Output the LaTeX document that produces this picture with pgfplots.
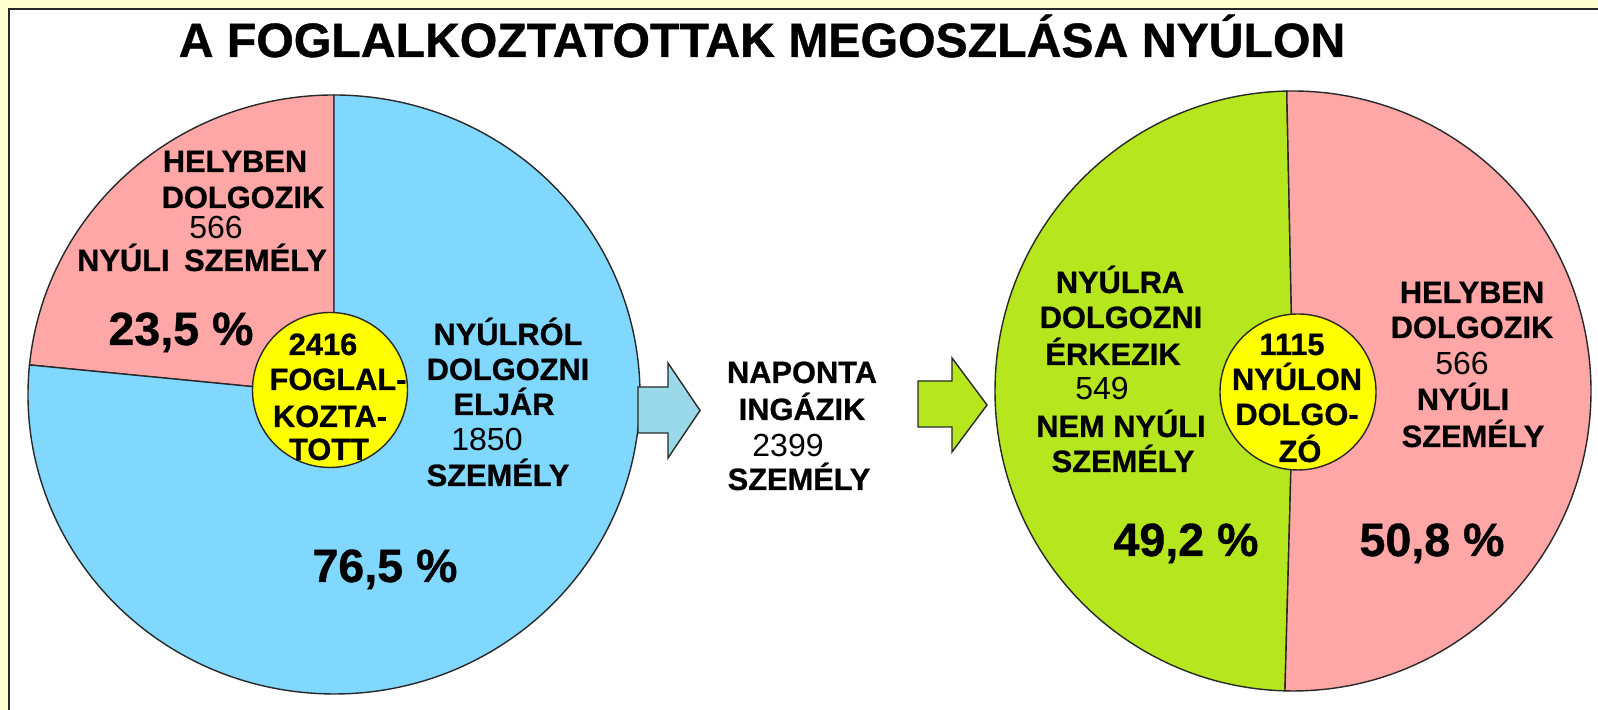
\documentclass[border=0pt]{standalone}
\usepackage{pgfplots}
\pgfplotsset{compat=1.18}
\usepackage{fontspec}
\setmainfont[BoldFeatures={FakeBold=0.8}]{Liberation Sans}
\definecolor{bgyellow}{RGB}{255,255,210}
\definecolor{pinkc}{RGB}{255,166,166}
\definecolor{bluec}{RGB}{128,216,255}
\definecolor{greenc}{RGB}{181,230,30}
\definecolor{arrowblue}{RGB}{153,217,234}
\definecolor{yel}{RGB}{255,255,0}
\definecolor{edge}{RGB}{40,40,40}

% data
\def\LocalL{566}\def\CommuteL{1850}
\def\InR{549}\def\LocalR{566}

\newcommand\B[3]{\node[anchor=base,inner sep=0pt,font=\fontsize{15.4bp}{17bp}\selectfont\bfseries] at (axis cs:#1,#2) {#3};}
\newcommand\R[3]{\node[anchor=base,inner sep=0pt,font=\fontsize{16bp}{17bp}\selectfont] at (axis cs:#1,#2) {#3};}
\newcommand\Pc[3]{\node[anchor=base,inner sep=0pt,font=\fontsize{23.3bp}{26bp}\selectfont\bfseries] at (axis cs:#1,#2) {#3};}

\begin{document}
\begin{tikzpicture}
\pgfmathsetmacro\aL{\LocalL/(\LocalL+\CommuteL)*360}
\pgfmathsetmacro\eL{90+\aL}
\pgfmathsetmacro\aR{\InR/(\InR+\LocalR)*360}
\pgfmathsetmacro\sR{91.2}
\pgfmathsetmacro\eR{\sR+\aR}
% pie geometry
\def\cxL{334}\def\cyL{315.5}\def\rxL{306}\def\ryL{299.5}
\def\cxR{1293}\def\cyR{319}\def\rxR{298}\def\ryR{300}
\pgfmathsetmacro\pLx{\cxL+\rxL*cos(90)}
\pgfmathsetmacro\pLy{\cyL+\ryL*sin(90)}
\pgfmathsetmacro\qLx{\cxL+\rxL*cos(\eL)}
\pgfmathsetmacro\qLy{\cyL+\ryL*sin(\eL)}
\pgfmathsetmacro\pRx{\cxR+\rxR*cos(\sR)}
\pgfmathsetmacro\pRy{\cyR+\ryR*sin(\sR)}
\pgfmathsetmacro\qRx{\cxR+\rxR*cos(\eR)}
\pgfmathsetmacro\qRy{\cyR+\ryR*sin(\eR)}
\begin{axis}[width=799bp,height=355bp,scale only axis,
  xmin=0,xmax=1598,ymin=0,ymax=710,hide axis,clip=true]
% background and frame
\fill[bgyellow] (axis cs:0,0) rectangle (axis cs:1598,710);
\fill[white] (axis cs:9,0) rectangle (axis cs:1598,701);
\draw[edge,line width=0.9bp] (axis cs:9,0) -- (axis cs:9,701) -- (axis cs:1598,701);
% title
\node[anchor=base,inner sep=0pt,font=\fontsize{24.1bp}{28bp}\selectfont\bfseries] at (axis cs:762,653) {A FOGLALKOZTATOTTAK MEGOSZLÁSA NYÚLON};
% left pie
\filldraw[fill=pinkc,draw=edge,line width=0.7bp] (axis cs:\cxL,\cyL) -- (axis cs:\pLx,\pLy) arc[start angle=90,end angle=\eL,x radius=\rxL,y radius=\ryL] -- cycle;
\filldraw[fill=bluec,draw=edge,line width=0.7bp] (axis cs:\cxL,\cyL) -- (axis cs:\qLx,\qLy) arc[start angle=\eL,end angle=450,x radius=\rxL,y radius=\ryL] -- cycle;
\filldraw[fill=yel,draw=edge,line width=0.7bp] (axis cs:330,320) circle[radius=77.5];
% right pie
\filldraw[fill=greenc,draw=edge,line width=0.7bp] (axis cs:\cxR,\cyR) -- (axis cs:\pRx,\pRy) arc[start angle=\sR,end angle=\eR,x radius=\rxR,y radius=\ryR] -- cycle;
\filldraw[fill=pinkc,draw=edge,line width=0.7bp] (axis cs:\cxR,\cyR) -- (axis cs:\qRx,\qRy) arc[start angle=\eR,end angle=451.2,x radius=\rxR,y radius=\ryR] -- cycle;
\filldraw[fill=yel,draw=edge,line width=0.7bp] (axis cs:1298,318) circle[radius=78];
% arrows
\filldraw[fill=arrowblue,draw=edge,line width=0.7bp] (axis cs:638,323) -- (axis cs:668,323) -- (axis cs:668,347) -- (axis cs:700,299.5) -- (axis cs:668,252) -- (axis cs:668,277) -- (axis cs:638,277) -- cycle;
\filldraw[fill=greenc,draw=edge,line width=0.7bp] (axis cs:918,329) -- (axis cs:952,329) -- (axis cs:952,352) -- (axis cs:987,305) -- (axis cs:952,258) -- (axis cs:952,283) -- (axis cs:918,283) -- cycle;
% left pie labels
\B{235}{538}{HELYBEN}
\B{243}{502}{DOLGOZIK}
\R{216}{471}{566}
\B{202}{439}{NYÚLI\hspace{3bp} SZEMÉLY}
\Pc{181}{365}{23,5 \%}
\B{323}{355}{2416}
\B{338}{320}{FOGLAL-}
\B{330}{283}{KOZTA-}
\B{329}{250}{TOTT}
\B{508}{365}{NYÚLRÓL}
\B{508}{330}{DOLGOZNI}
\B{504}{295}{ELJÁR}
\R{487}{259}{1850}
\B{498}{224}{SZEMÉLY}
\Pc{385}{128}{76,5 \%}
% middle
\B{802}{327}{NAPONTA}
\B{802}{290}{INGÁZIK}
\R{788}{253}{2399}
\B{799}{220}{SZEMÉLY}
% right pie labels
\B{1120}{417}{NYÚLRA}
\B{1121}{382}{DOLGOZNI}
\B{1113}{345}{ÉRKEZIK}
\R{1102}{310}{549}
\B{1121}{273}{NEM NYÚLI}
\B{1123}{238}{SZEMÉLY}
\B{1292}{355}{1115}
\B{1297}{320}{NYÚLON}
\B{1297}{285}{DOLGO-}
\B{1300}{248}{ZÓ}
\B{1472}{407}{HELYBEN}
\B{1472}{372}{DOLGOZIK}
\R{1462}{335}{566}
\B{1463}{300}{NYÚLI}
\B{1473}{263}{SZEMÉLY}
\Pc{1186}{154}{49,2 \%}
\Pc{1432}{154}{50,8 \%}
\end{axis}
\end{tikzpicture}
\end{document}
